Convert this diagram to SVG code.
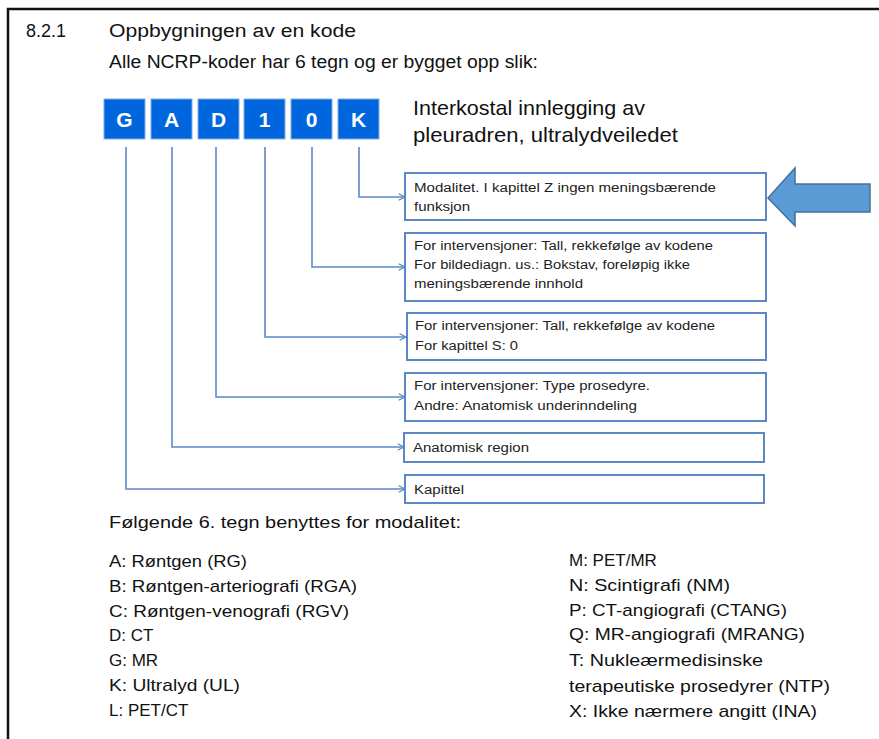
<svg xmlns="http://www.w3.org/2000/svg" width="879" height="739" viewBox="0 0 879 739">
<defs>
<marker id="arr" viewBox="0 0 10 10" refX="9" refY="5" markerWidth="8" markerHeight="8" markerUnits="userSpaceOnUse" orient="auto">
<polyline points="1,1 9,5 1,9" fill="none" stroke="#5A8AC8" stroke-width="1.6"/>
</marker>
</defs>
<style>
.t{font-family:"Liberation Sans",Arial,sans-serif;fill:#111}
.h{font-size:18px}
.code rect{fill:#0066DD;stroke:#7FAEEA;stroke-width:1}
.code text{font-family:"Liberation Sans",Arial,sans-serif;font-weight:bold;font-size:21px;fill:#fff;text-anchor:middle}
.box rect{fill:#fff;stroke:#5B87C4;stroke-width:2}
.bt{font-family:"Liberation Sans",Arial,sans-serif;font-size:12.5px;fill:#222}
.conn path{fill:none;stroke:#5A8AC8;stroke-width:1.6}
.lst{font-size:17px}
</style>
<rect width="879" height="739" fill="#fff"/>
<path d="M8,739 V9 H879" fill="none" stroke="#111" stroke-width="2.5"/>

<text class="t h" x="26" y="37">8.2.1</text>
<text class="t h" x="109" y="37" textLength="247" lengthAdjust="spacingAndGlyphs">Oppbygningen av en kode</text>
<text class="t h" x="109" y="68" textLength="429" lengthAdjust="spacingAndGlyphs">Alle NCRP-koder har 6 tegn og er bygget opp slik:</text>

<g id="code-G" class="code"><rect x="104" y="99" width="41" height="40"/><text x="124.5" y="127">G</text></g>
<g id="code-A" class="code"><rect x="151" y="99" width="41" height="40"/><text x="171.5" y="127">A</text></g>
<g id="code-D" class="code"><rect x="198" y="99" width="41" height="40"/><text x="218.5" y="127">D</text></g>
<g id="code-1" class="code"><rect x="244" y="99" width="41" height="40"/><text x="264.5" y="127">1</text></g>
<g id="code-0" class="code"><rect x="291" y="99" width="41" height="40"/><text x="311.5" y="127">0</text></g>
<g id="code-K" class="code"><rect x="338" y="99" width="41" height="40"/><text x="358.5" y="127">K</text></g>

<text class="t" font-size="21" x="413" y="115" textLength="232" lengthAdjust="spacingAndGlyphs">Interkostal innlegging av</text>
<text class="t" font-size="21" x="413" y="142" textLength="265" lengthAdjust="spacingAndGlyphs">pleuradren, ultralydveiledet</text>

<g id="connectors" class="conn">
<path d="M359,147 V197 H405" marker-end="url(#arr)"/>
<path d="M312,147 V267 H405" marker-end="url(#arr)"/>
<path d="M265,147 V337 H406" marker-end="url(#arr)"/>
<path d="M216,147 V397 H405" marker-end="url(#arr)"/>
<path d="M172,147 V447 H404" marker-end="url(#arr)"/>
<path d="M126,147 V489 H405" marker-end="url(#arr)"/>
</g>

<g id="box-modalitet" class="box">
<rect x="405" y="173" width="361" height="47"/>
<text class="bt" x="414" y="192" textLength="302" lengthAdjust="spacingAndGlyphs">Modalitet. I kapittel Z ingen meningsbærende</text>
<text class="bt" x="414" y="211" textLength="56" lengthAdjust="spacingAndGlyphs">funksjon</text>
</g>
<g id="box-5" class="box">
<rect x="405" y="233" width="361" height="68"/>
<text class="bt" x="414" y="250" textLength="299" lengthAdjust="spacingAndGlyphs">For intervensjoner: Tall, rekkefølge av kodene</text>
<text class="bt" x="414" y="269" textLength="276" lengthAdjust="spacingAndGlyphs">For bildediagn. us.: Bokstav, foreløpig ikke</text>
<text class="bt" x="414" y="288" textLength="169" lengthAdjust="spacingAndGlyphs">meningsbærende  innhold</text>
</g>
<g id="box-4" class="box">
<rect x="407" y="313" width="359" height="47"/>
<text class="bt" x="415" y="330" textLength="300" lengthAdjust="spacingAndGlyphs">For intervensjoner: Tall, rekkefølge av kodene</text>
<text class="bt" x="415" y="350" textLength="103" lengthAdjust="spacingAndGlyphs">For kapittel S: 0</text>
</g>
<g id="box-3" class="box">
<rect x="405" y="373" width="361" height="48"/>
<text class="bt" x="414" y="390" textLength="236" lengthAdjust="spacingAndGlyphs">For intervensjoner: Type prosedyre.</text>
<text class="bt" x="414" y="410" textLength="223" lengthAdjust="spacingAndGlyphs">Andre: Anatomisk underinndeling</text>
</g>
<g id="box-2" class="box">
<rect x="404" y="433" width="360" height="29"/>
<text class="bt" x="413" y="452" textLength="116" lengthAdjust="spacingAndGlyphs">Anatomisk region</text>
</g>
<g id="box-1" class="box">
<rect x="405" y="475" width="359" height="28"/>
<text class="bt" x="414" y="494" textLength="50" lengthAdjust="spacingAndGlyphs">Kapittel</text>
</g>

<g id="big-arrow">
<polygon points="768,198 795,168 795,184 870,184 870,212 795,212 795,226" fill="#5B9BD5" stroke="#41719C" stroke-width="1.5"/>
</g>

<text class="t lst" x="109" y="528" textLength="352" lengthAdjust="spacingAndGlyphs">Følgende 6. tegn benyttes for modalitet:</text>
<g class="t lst">
<text x="109" y="567" textLength="138" lengthAdjust="spacingAndGlyphs">A: Røntgen (RG)</text>
<text x="109" y="592" textLength="248" lengthAdjust="spacingAndGlyphs">B: Røntgen-arteriografi (RGA)</text>
<text x="109" y="617" textLength="240" lengthAdjust="spacingAndGlyphs">C: Røntgen-venografi (RGV)</text>
<text x="109" y="641">D: CT</text>
<text x="109" y="666">G: MR</text>
<text x="109" y="691" textLength="131" lengthAdjust="spacingAndGlyphs">K: Ultralyd (UL)</text>
<text x="109" y="716">L: PET/CT</text>
<text x="569" y="566">M: PET/MR</text>
<text x="569" y="591" textLength="161" lengthAdjust="spacingAndGlyphs">N: Scintigrafi (NM)</text>
<text x="569" y="616" textLength="218" lengthAdjust="spacingAndGlyphs">P: CT-angiografi (CTANG)</text>
<text x="569" y="640" textLength="236" lengthAdjust="spacingAndGlyphs">Q: MR-angiografi (MRANG)</text>
<text x="569" y="666" textLength="194" lengthAdjust="spacingAndGlyphs">T: Nukleærmedisinske</text>
<text x="569" y="692" textLength="261" lengthAdjust="spacingAndGlyphs">terapeutiske prosedyrer (NTP)</text>
<text x="569" y="717" textLength="248" lengthAdjust="spacingAndGlyphs">X: Ikke nærmere angitt (INA)</text>
</g>
</svg>
